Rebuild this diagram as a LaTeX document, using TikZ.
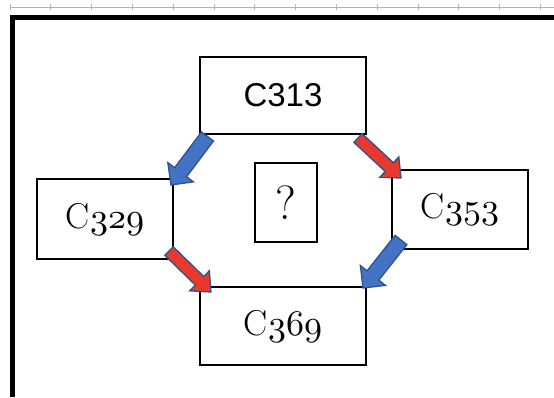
\documentclass[tikz,border=0pt]{standalone}
\usepackage{fontspec}
\newfontfamily\arialf{Liberation Sans}
\usetikzlibrary{calc}
\definecolor{ablue}{HTML}{4472C4}
\definecolor{aline}{HTML}{2F528F}
\definecolor{ared}{HTML}{E8392C}
\DeclareFontFamily{OML}{osfx}{\skewchar\font=127}
\DeclareFontShape{OML}{osfx}{m}{it}{<-> cmmi10}{}
\newcommand\osf[1]{{\usefont{OML}{osfx}{m}{it}#1}}
\newcommand\blockarrow[5]{% #1 tail, #2 tip, #3 fill, #4 shaft half width, #5 head half width
  \coordinate (hb) at ($(#2)!16pt!(#1)$);
  \draw[arrowline, fill=#3]
    ($(#1)!#4!90:(#2)$) -- ($(hb)!#4!90:(#2)$) -- ($(hb)!#5!90:(#2)$) -- (#2)
    -- ($(hb)!#5!-90:(#2)$) -- ($(hb)!#4!-90:(#2)$) -- ($(#1)!#4!-90:(#2)$) -- cycle;}
\tikzset{
  box/.style={draw=black, line width=2pt, fill=white, inner sep=0pt, outer sep=0pt},
  serifbig/.style={font=\fontsize{36}{40}\selectfont},
  arrowline/.style={draw=aline, line width=1.3pt, line join=miter},
  rulerline/.style={draw=black!30, line width=0.8pt}
}
\begin{document}
\begin{tikzpicture}[x=1pt,y=1pt]
\useasboundingbox (0,0) rectangle (554,397);
% ruler
\draw[rulerline] (10,390) -- (554,390);
\foreach \i in {0,...,13} \draw[rulerline] ({10+40.8*\i},387) -- ({10+40.8*\i},392.5);
% frame
\draw[line width=5pt] (12.5,0) -- (12.5,379.5) -- (556,379.5);
% boxes
\node[box, minimum width=166, minimum height=77, font=\arialf\fontsize{33}{40}\selectfont] (c313) at (283,301.5) {C313};
\node[box, serifbig, minimum width=136, minimum height=80] (c329) at (105,178) {C\osf{329}};
\node[box, serifbig, minimum width=136, minimum height=79] (c353) at (460,187.5) {C\osf{353}};
\node[box, serifbig, minimum width=166, minimum height=78] (c369) at (283,71) {C\osf{369}};
\node[box, minimum width=62, minimum height=79, font=\fontsize{48}{52}\selectfont] (q) at (286,194.5) {?};
% arrow ends
\coordinate (t1) at ($(c313.south west)+(7.5,-2.5)$);
\coordinate (h1) at ($(c329.north east)+(-2,-6)$);
\coordinate (t2) at ($(c313.south east)+(-8,-4)$);
\coordinate (h2) at ($(c353.north west)+(9,-8)$);
\coordinate (t3) at ($(c329.south east)+(-4,8)$);
\coordinate (h3) at ($(c369.north west)+(11,-5)$);
\coordinate (t4) at ($(c353.south west)+(9,9)$);
\coordinate (h4) at ($(c369.north east)+(-3,-1)$);
\blockarrow{t1}{h1}{ablue}{7.5pt}{16pt}
\blockarrow{t2}{h2}{ared}{6pt}{14pt}
\blockarrow{t3}{h3}{ared}{6pt}{14pt}
\blockarrow{t4}{h4}{ablue}{7.5pt}{16pt}
\end{tikzpicture}
\end{document}
